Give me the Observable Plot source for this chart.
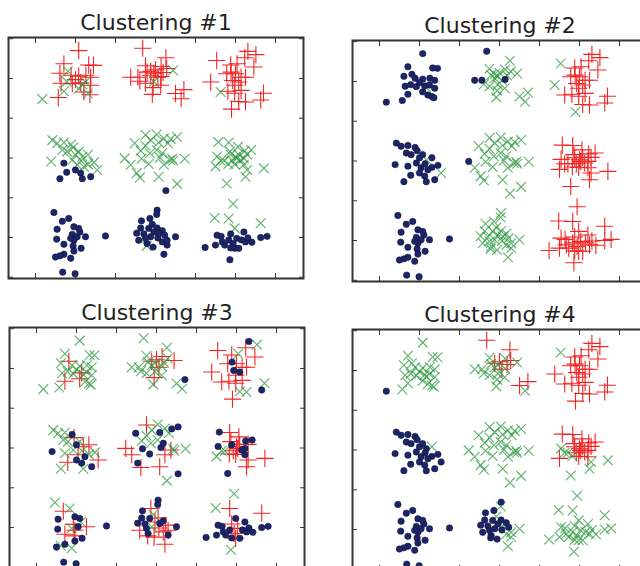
<!DOCTYPE html>
<html>
<head>
<meta charset="utf-8">
<script src="https://cdn.jsdelivr.net/npm/d3@7"></script>
<script src="https://cdn.jsdelivr.net/npm/@observablehq/plot@0.6"></script>
<style>
  body { margin: 0; background: #fff; }
  #grid { position: relative; width: 640px; height: 566px; overflow: hidden; background: #fff; }
  #grid > .panel { position: absolute; width: 305px; height: 290px; }
  #grid > .panel > svg { max-width: none !important; }
</style>
</head>
<body>
<div id="grid"></div>
<script>
// Sample coordinates: nine blobs on a 3x3 lattice, one line per blob.
const pointX = [
  1.08,0.71,1.33,1.45,0.61,0.81,0.89,1.08,1.26,1.38,0.64,0.78,0.92,1.13,1.17,1.38,0.71,1.08,1.21,1.31,1.36,0.57,0.17,1.00,1.25,
  2.68,3.26,2.75,3.14,3.28,3.44,2.38,2.56,2.61,2.79,2.88,2.96,3.06,3.14,3.19,2.96,2.75,2.94,3.13,2.92,3.50,3.71,3.64,2.88,3.00,
  5.31,5.51,5.23,4.53,4.88,5.04,5.46,4.78,4.89,5.14,5.25,4.93,4.38,4.98,4.63,4.81,5.14,4.98,5.08,5.25,5.63,5.70,4.90,5.00,5.08,
  0.42,0.54,0.71,0.89,0.67,0.79,0.94,1.00,1.17,1.31,0.39,0.71,0.92,1.04,1.14,1.31,0.78,1.00,0.61,1.13,1.17,1.38,1.54,1.46,1.08,1.21,
  2.75,3.03,3.21,3.38,3.54,2.48,2.75,3.08,3.31,2.63,2.86,3.03,2.23,2.65,3.11,3.36,3.44,3.73,2.83,3.21,2.53,2.61,3.08,3.54,3.26,3.42,3.17,2.88,2.38,
  4.57,4.83,5.06,5.23,5.39,4.54,4.88,5.03,5.21,4.92,4.50,4.82,4.98,5.21,5.29,5.71,5.25,4.78,4.71,5.08,5.00,5.13,4.86,5.29,4.63,
  0.46,0.67,0.83,0.54,0.96,1.11,0.92,1.25,1.04,0.53,0.96,0.71,0.94,1.14,0.96,0.71,0.61,0.50,0.88,1.75,0.68,0.99,1.08,0.88,
  3.04,3.03,2.86,2.65,2.92,3.04,2.63,2.53,2.71,3.17,3.23,2.88,3.06,3.50,2.58,2.79,2.94,3.17,3.29,3.21,2.78,2.83,2.96,2.75,3.08,3.29,
  4.94,4.48,4.83,4.98,5.63,4.64,4.88,5.21,4.24,4.50,4.73,4.83,5.03,5.15,4.98,5.08,4.88,5.25,5.41,5.63,5.79,4.86,4.54,4.94,4.67,5.31
];
const pointY = [
  5.70,5.37,5.34,5.33,5.13,5.18,5.08,5.06,5.08,5.03,4.88,4.92,4.87,4.89,4.85,4.83,4.68,4.74,4.66,4.62,4.59,4.52,4.48,4.97,4.91,
  5.76,5.52,5.32,5.30,5.25,5.20,5.03,5.03,4.93,5.16,5.18,5.13,5.03,5.05,5.15,4.92,4.88,4.77,4.83,4.60,4.62,4.72,4.49,5.08,5.22,
  5.68,5.60,5.52,5.45,5.34,5.37,5.29,5.12,5.16,5.03,5.03,4.95,4.91,4.83,4.66,4.68,4.70,4.63,4.42,4.41,4.46,4.63,4.23,5.12,4.91,
  3.45,3.37,3.39,3.34,3.20,3.16,3.26,3.08,3.03,3.08,2.91,2.87,2.95,2.83,2.93,2.84,2.64,2.70,2.48,2.62,2.48,2.53,2.70,2.89,3.16,2.78,
  3.58,3.59,3.49,3.48,3.53,3.37,3.31,3.39,3.37,3.18,3.12,3.20,2.99,2.98,3.01,2.95,2.93,2.98,2.85,2.83,2.62,2.51,2.53,2.35,2.18,2.98,3.12,3.45,2.83,
  3.40,3.39,3.28,3.18,3.20,3.04,3.08,2.99,2.99,2.93,2.79,2.85,2.84,2.83,2.70,2.74,2.53,2.36,2.93,3.09,3.03,2.95,3.16,3.09,2.93,
  1.63,1.41,1.48,1.21,1.27,1.14,1.08,1.02,1.02,0.96,0.93,0.83,0.79,0.73,0.66,0.58,0.54,0.51,0.48,1.04,0.13,0.09,1.23,0.98,
  1.69,1.58,1.48,1.42,1.33,1.24,1.24,1.11,1.09,1.17,1.06,1.02,0.99,1.02,0.93,0.85,0.76,0.89,0.81,0.58,0.79,1.23,1.14,0.98,1.10,0.93,
  1.85,1.49,1.48,1.23,1.36,1.03,1.09,1.14,0.75,0.81,0.81,0.94,0.98,0.94,0.73,0.73,0.74,0.89,0.88,1.00,1.03,0.44,1.06,0.85,0.89,0.99
];
// Number of samples in each blob, in the same order as the lines above.
const blobSizes = [25, 25, 25, 26, 29, 25, 24, 26, 26];

// Cluster assignment of every sample, one string per blob:
// "o" = cluster 1 (navy dot), "x" = cluster 2 (green cross), "+" = cluster 3 (red plus).
const labels1 = [
  "+++++x+++++x++x+xx+x++x+x",
  "+++++x+++++++++x+++++++++",
  "++++++++++++++x++++++++++",
  "xxxxxxxxxxxoxxxxooooooxxxx",
  "x".repeat(24) + "o" + "xxxx",
  "x".repeat(25),
  "o".repeat(24),
  "o".repeat(20) + "x" + "ooooo",
  "xxxxx" + "o".repeat(21)
];
const labels2 = [
  "o".repeat(14) + "x" + "o".repeat(10),
  "oxxxxxooxxxxxoxxxxxxxxxxx",
  "+++x++++++++x+++++++++x++",
  "o".repeat(8) + "x" + "o".repeat(13) + "xooo",
  "x".repeat(12) + "o" + "x".repeat(16),
  "+".repeat(25),
  "o".repeat(24),
  "x".repeat(26),
  "+".repeat(26)
];
const labels3 = [
  "xxxxx+xxxxxxx+xx++xxxxxxx",
  "xxx+x+xxxx+x+xxxx+xxxoxx+",
  "ox+++x++o++o++++++xxox++o",
  "xxxoxx+o++oxx+xx+oxoxo+xxo",
  "+xxoooxoxxxx+oo+xxo+o++oxxox+",
  "o++oooo+o+x++o+++ox++o++x",
  "x+xoox++oo+++oooxoxoooox",
  "oo+ox+oooo+x+o+o++o++o+oo+",
  "xx+o+o+ooooo+o+ooooooxo+oo"
];
const labels4 = [
  "x".repeat(22) + "oxx",
  "++xx+xxxxx+x+x+xxxxx++xx+",
  "+++x" + "+".repeat(21),
  "o".repeat(9) + "x" + "o".repeat(16),
  "x".repeat(29),
  "+++++x+++++x++xxxxx+++++x",
  "o".repeat(24),
  "oxooxooooooooxoooxxxooooxx",
  "x".repeat(26)
];

const titles = ["Clustering #1", "Clustering #2", "Clustering #3", "Clustering #4"];
const tickValues = [0, 1, 2, 3, 4, 5, 6];

// Where each panel's SVG sits in the 2x2 grid.
const placement = [
  {left: 3, top: 0},
  {left: 347, top: 3},
  {left: 4, top: 290},
  {left: 347, top: 292}
];

const allLabels = [labels1, labels2, labels3, labels4];

function drawPanel(title, labels) {
  labels.forEach((s, j) => {
    if (s.length !== blobSizes[j]) throw new Error(`${title}: blob ${j} has ${s.length} labels, expected ${blobSizes[j]}`);
  });
  const keys = labels.join("").split("");
  const rows = pointX.map((x, i) => ({x, y: pointY[i], k: keys[i]}));
  const ink = "#333";
  const blank = () => "";
  return Plot.plot({
    width: 305,
    height: 290,
    marginLeft: 5,
    marginRight: 5,
    marginTop: 37,
    marginBottom: 12,
    x: {domain: [-0.675, 6.7]},
    y: {domain: [-0.03, 6.03]},
    style: {background: "transparent", overflow: "visible"},
    marks: [
      // red pluses first, green crosses over them, navy dots on top
      Plot.dot(rows.filter(d => d.k === "+"), {
        x: "x", y: "y", symbol: "plus", r: 5.6,
        stroke: "#f22424", strokeWidth: 1.1
      }),
      Plot.dot(rows.filter(d => d.k === "x"), {
        x: "x", y: "y", symbol: "times", r: 4.5,
        stroke: "#2f9a40", strokeOpacity: 0.75, strokeWidth: 1.15
      }),
      Plot.dot(rows.filter(d => d.k === "o"), {
        x: "x", y: "y", r: 3.2,
        fill: "#1c2567", stroke: "#111844", strokeWidth: 0.6
      }),
      Plot.axisX(tickValues, {anchor: "bottom", tickSize: -5, tickFormat: blank, label: null, stroke: ink}),
      Plot.axisX(tickValues, {anchor: "top", tickSize: -5, tickFormat: blank, label: null, stroke: ink}),
      Plot.axisY(tickValues, {anchor: "left", tickSize: -5, tickFormat: blank, label: null, stroke: ink}),
      Plot.axisY(tickValues, {anchor: "right", tickSize: -5, tickFormat: blank, label: null, stroke: ink}),
      Plot.frame({stroke: ink, strokeWidth: 2}),
      Plot.text([title], {
        text: d => d, frameAnchor: "top", lineAnchor: "bottom", dy: -8,
        fontSize: 22, fontFamily: "DejaVu Sans", fill: "#222"
      })
    ]
  });
}

const grid = document.getElementById("grid");
titles.forEach((title, i) => {
  const holder = document.createElement("div");
  holder.className = "panel";
  holder.style.left = placement[i].left + "px";
  holder.style.top = placement[i].top + "px";
  const chart = drawPanel(title, allLabels[i]);
  chart.style.maxWidth = "none";
  holder.appendChild(chart);
  grid.appendChild(holder);
});
</script>
</body>
</html>
